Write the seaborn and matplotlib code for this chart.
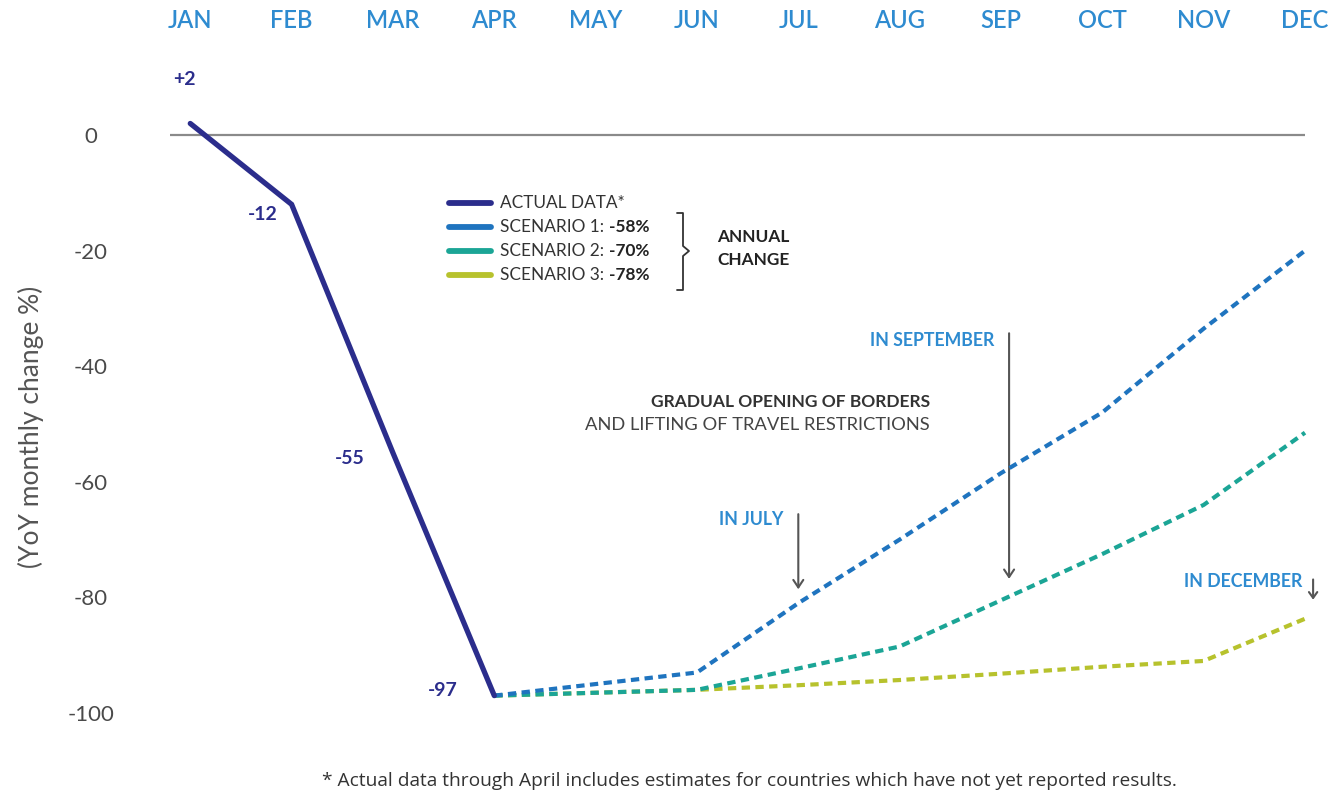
import matplotlib
matplotlib.use("Agg")
import matplotlib.pyplot as plt
import seaborn as sns
import pandas as pd
from matplotlib.lines import Line2D

# ---------------- data ----------------
months = ["JAN", "FEB", "MAR", "APR", "MAY", "JUN", "JUL", "AUG", "SEP", "OCT", "NOV", "DEC"]
actual_idx = [0, 1, 2, 3]
actual = [2, -12, -55, -97]
actual_labels = ["+2", "-12", "-55", "-97"]
scen_idx = [3, 4, 5, 6, 7, 8, 9, 10, 11]
scenario1 = [-97, -95, -93, -81, -70, -58.5, -48, -33.5, -20]
scenario2 = [-97, -96.5, -96, -92.3, -88.5, -80.5, -72.5, -64, -51.5]
scenario3 = [-97, -96.5, -96, -95.2, -94.3, -93.2, -92, -91, -83.7]
legend_main = ["ACTUAL DATA*", "SCENARIO 1: ", "SCENARIO 2: ", "SCENARIO 3: "]
legend_bold = ["", "-58%", "-70%", "-78%"]
yticks = [0, -20, -40, -60, -80, -100]

# ---------------- style ----------------
W, H = 1334, 792
sns.set_theme(style="white")
plt.rcParams["font.family"] = ["Lato", "DejaVu Sans"]

NAVY = "#2b2d8c"
BLUE = "#1f74bf"
TEAL = "#1ba596"
OLIVE = "#b7c22d"
MONTHC = "#2e8bd0"
GRAY = "#4a4a4a"

fig = plt.figure(figsize=(W / 100, H / 100), dpi=100)

def fx(x):
    return x / W

def fy(y):
    return 1 - y / H

ax_left, ax_right = 170, 1305
ax_top, ax_bot = 59.9, 730.3
ax = fig.add_axes([fx(ax_left), fy(ax_bot), (ax_right - ax_left) / W, (ax_bot - ax_top) / H])
ax.set_xlim(-0.2, 11)
ax.set_ylim(-103, 13)
for s in ax.spines.values():
    s.set_visible(False)

ax.axhline(0, color="#8a8a8a", lw=1.6, zorder=1)

df_a = pd.DataFrame({"m": actual_idx, "v": actual})
sns.lineplot(data=df_a, x="m", y="v", color=NAVY, lw=3.8, ax=ax, clip_on=False, zorder=5,
             solid_joinstyle="miter")

dash = (0, (2.0, 1.3))
for vals, col, z in [(scenario3, OLIVE, 2), (scenario2, TEAL, 3), (scenario1, BLUE, 4)]:
    d = pd.DataFrame({"m": scen_idx, "v": vals})
    sns.lineplot(data=d, x="m", y="v", color=col, lw=3.0, linestyle=dash, ax=ax,
                 clip_on=False, zorder=z, dash_capstyle="butt")

# value labels on actual data
offsets = [(-4, 32), (-21, -7), (-31, -4), (-37, 4)]
for xi, yv, lab, off in zip(actual_idx, actual, actual_labels, offsets):
    ax.annotate(lab, (xi, yv), xytext=off, textcoords="offset points", ha="center", va="center",
                fontsize=14, fontweight="bold", color=NAVY)

# ticks
ax.xaxis.tick_top()
ax.set_xticks(range(len(months)))
ax.set_xticklabels(months, fontsize=17, color=MONTHC, fontweight="semibold")
ax.tick_params(axis="x", length=0, pad=20)
ax.set_yticks(yticks)
ax.set_yticklabels([str(v) for v in yticks], fontsize=16, color=GRAY)
ax.tick_params(axis="y", length=0, pad=57)
for t in ax.get_yticklabels():
    t.set_horizontalalignment("center")
ax.set_xlabel("")
ax.set_ylabel("")
fig.text(fx(31), fy(427), "(YoY monthly change %)", rotation=90, ha="center", va="center",
         fontsize=19, color="#555555")

arrow_kw = dict(arrowstyle="->,head_length=0.45,head_width=0.3", color="#555555", lw=1.5,
                shrinkA=0, shrinkB=0)

# annotations
ax.text(7.93, -35.5, "IN SEPTEMBER", ha="right", va="center", fontsize=12.8, fontweight="bold", color=MONTHC)
ax.annotate("", xy=(8.08, -76.8), xytext=(8.08, -34.3), arrowprops=arrow_kw, annotation_clip=False)
ax.text(7.30, -46.2, "GRADUAL OPENING OF BORDERS", ha="right", va="center", fontsize=12.5,
        fontweight="bold", color="#333333")
ax.text(7.30, -50.2, "AND LIFTING OF TRAVEL RESTRICTIONS", ha="right", va="center", fontsize=13.2,
        color="#444444")
ax.text(5.85, -66.6, "IN JULY", ha="right", va="center", fontsize=12.8, fontweight="bold", color=MONTHC)
ax.annotate("", xy=(6.0, -78.6), xytext=(6.0, -65.6), arrowprops=arrow_kw, annotation_clip=False)
ax.text(10.97, -77.3, "IN DECEMBER", ha="right", va="center", fontsize=12.8, fontweight="bold", color=MONTHC)
ax.annotate("", xy=(11.08, -80.4), xytext=(11.08, -76.9),
            arrowprops=dict(arrowstyle="->,head_length=0.35,head_width=0.25", color="#555555",
                            lw=1.5, shrinkA=0, shrinkB=0), annotation_clip=False)

# legend (manual)
leg_cols = [NAVY, BLUE, TEAL, OLIVE]
leg_y = [203, 227, 251, 275]
renderer = fig.canvas.get_renderer()
for col, y, main, bold in zip(leg_cols, leg_y, legend_main, legend_bold):
    fig.add_artist(Line2D([fx(449), fx(491)], [fy(y), fy(y)], color=col, lw=4.2,
                          solid_capstyle="round", transform=fig.transFigure))
    t = fig.text(fx(500), fy(y), main, ha="left", va="center", fontsize=12.4, color="#333333")
    if bold:
        bb = t.get_window_extent(renderer=renderer)
        fig.text(bb.x1 / W, fy(y), bold, ha="left", va="center", fontsize=12.4,
                 fontweight="bold", color="#222222")

# bracket
bx = 683
br = [(677, 213), (bx, 213), (bx, 246), (689, 251), (bx, 256), (bx, 290), (677, 290)]
fig.add_artist(Line2D([fx(p[0]) for p in br], [fy(p[1]) for p in br], color="#333333", lw=1.3,
                      transform=fig.transFigure))
fig.text(fx(717), fy(237), "ANNUAL", ha="left", va="center", fontsize=12.4, fontweight="bold", color="#222222")
fig.text(fx(717), fy(260), "CHANGE", ha="left", va="center", fontsize=12.4, fontweight="bold", color="#222222")

# footnote
fig.text(fx(749), fy(781), "* Actual data through April includes estimates for countries which have not yet reported results.",
         ha="center", va="center", fontsize=13.8, color="#333333", family=["Open Sans", "DejaVu Sans"])

fig.savefig("out.png", dpi=100, facecolor="white")
